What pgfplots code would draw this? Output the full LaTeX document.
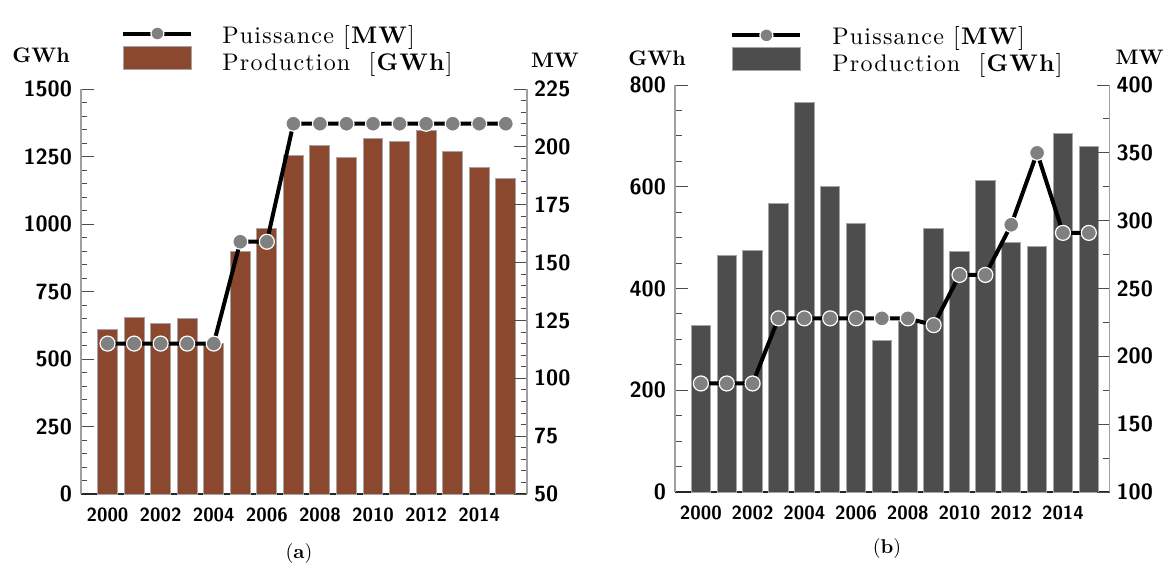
\documentclass[border=0pt]{standalone}
\usepackage{fontspec}
\usepackage{pgfplots}
\usepackage{pgfplotstable}
\pgfplotsset{compat=1.18}
\newfontfamily\legfont{lmroman10-regular}[Extension=.otf, BoldFont=lmroman10-bold, LetterSpace=5]
\definecolor{brownbar}{RGB}{139,72,46}
\definecolor{graybar}{RGB}{77,77,77}
\definecolor{markgray}{RGB}{128,128,128}
\definecolor{edgegray}{RGB}{165,165,165}

\pgfplotstableread{
year prod pow
2000 611 115
2001 654 115
2002 633 115
2003 649 115
2004 559 115
2005 897 159
2006 983 159
2007 1254 210
2008 1289 210
2009 1248 210
2010 1315 210
2011 1306 210
2012 1347 210
2013 1268 210
2014 1211 210
2015 1169 210
}\tableA

\pgfplotstableread{
year prod pow
2000 327 180
2001 465 180
2002 475 180
2003 567 228
2004 765 228
2005 601 228
2006 527 228
2007 298 228
2008 335 228
2009 518 223
2010 472 260
2011 612 260
2012 491 297
2013 483 350
2014 704 291
2015 679 291
}\tableB

\pgfplotsset{
  base/.style={
    scale only axis, anchor=south west,
    xmin=1999, xmax=2015.8,
    tick align=inside,
    major tick length=6.5pt, minor tick length=3.25pt,
    /pgf/number format/assume math mode=true,
    /pgf/number format/1000 sep={},
    y axis line style={draw=gray!75, line width=0.6pt},
    ytick style={draw=gray!60!black, line width=0.5pt},
    yticklabel style={font=\fontsize{11}{11}\selectfont\sffamily\bfseries},
  },
  barax/.style={
    base,
    axis x line*=bottom, axis y line*=left,
    x axis line style={draw=black!85, line width=0.8pt},
    xtick={2000,2002,...,2014},
    xtick style={draw=none},
    xticklabel style={font=\fontsize{9.5}{9.5}\selectfont\sffamily\bfseries, yshift=-3.5pt},
    yticklabel style={xshift=-1pt},
    legend cell align=left,
  },
  lineax/.style={
    base,
    axis y line*=right, axis x line=none,
    clip=false,
  },
  pline/.style={black, line width=2pt, mark=*, mark size=3.75pt,
    mark options={fill=markgray, draw=white, line width=0.6pt}},
  linelegend/.style={legend image code/.code={\draw[##1, mark repeat=2, mark phase=2] plot coordinates {(0pt,1pt) (17pt,1pt) (34pt,1pt)};}},
  barlegend/.style={legend image code/.code={\draw[##1] (0pt,-3.25pt) rectangle (34pt,8.25pt);}},
}

\begin{document}
\begin{tikzpicture}
\useasboundingbox (0,0) rectangle (582.5pt,281.5pt);

% ---------- (a) ----------
\begin{axis}[barax, at={(40.5pt,34.5pt)}, width=223pt, height=202.5pt,
  ymin=0, ymax=1500, ytick={0,250,...,1500}, minor y tick num=4,
  legend style={at={(0.0897,1.159)}, anchor=north west, draw=none, fill=none,
    inner sep=0pt, row sep=-0.25pt, column sep=14.5pt, nodes={inner sep=0pt},
    font=\legfont\fontsize{12}{14}\selectfont}]
\addlegendimage{pline, mark size=3.25pt, linelegend}
\addlegendentry{Puissance [\textbf{MW}]}
\addplot[ybar, bar width=0.75, fill=brownbar, draw=edgegray, line width=0.5pt, barlegend]
  table[x=year, y=prod]{\tableA};
\addlegendentry{Production\ \ [\textbf{GWh}]}
\end{axis}
\begin{axis}[lineax, at={(40.5pt,34.5pt)}, width=223pt, height=202.5pt,
  ymin=50, ymax=225, ytick={50,75,...,225}, minor y tick num=4]
\addplot[pline] table[x=year, y=pow]{\tableA};
\end{axis}

% ---------- (b) ----------
\begin{axis}[barax, at={(337.5pt,35.5pt)}, width=217.25pt, height=203.5pt,
  ymin=0, ymax=800, ytick={0,200,...,800}, minor y tick num=3,
  legend style={at={(0.1266,1.1438)}, anchor=north west, draw=none, fill=none,
    inner sep=0pt, row sep=-0.25pt, column sep=15pt, nodes={inner sep=0pt},
    font=\legfont\fontsize{12}{14}\selectfont}]
\addlegendimage{pline, mark size=3.25pt, linelegend}
\addlegendentry{Puissance [\textbf{MW}]}
\addplot[ybar, bar width=0.75, fill=graybar, draw=edgegray, line width=0.5pt, barlegend]
  table[x=year, y=prod]{\tableB};
\addlegendentry{Production\ \ [\textbf{GWh}]}
\end{axis}
\begin{axis}[lineax, at={(337.5pt,35.5pt)}, width=217.25pt, height=203.5pt,
  ymin=100, ymax=400, ytick={100,150,...,400}, minor y tick num=1]
\addplot[pline] table[x=year, y=pow]{\tableB};
\end{axis}

% unit labels and captions
\node[font=\fontsize{10.5}{10.5}\selectfont\bfseries] at (20.5pt,254pt) {GWh};
\node[font=\fontsize{10.5}{10.5}\selectfont\bfseries] at (277.5pt,251.5pt) {MW};
\node[font=\fontsize{10.5}{10.5}\selectfont\bfseries] at (328.5pt,252.5pt) {GWh};
\node[font=\fontsize{10.5}{10.5}\selectfont\bfseries] at (569.75pt,253pt) {MW};
\node[font=\fontsize{10}{10}\selectfont] at (149.5pt,5pt) {(\textbf{a})};
\node[font=\fontsize{10}{10}\selectfont] at (443.5pt,7.5pt) {(\textbf{b})};
\end{tikzpicture}
\end{document}
